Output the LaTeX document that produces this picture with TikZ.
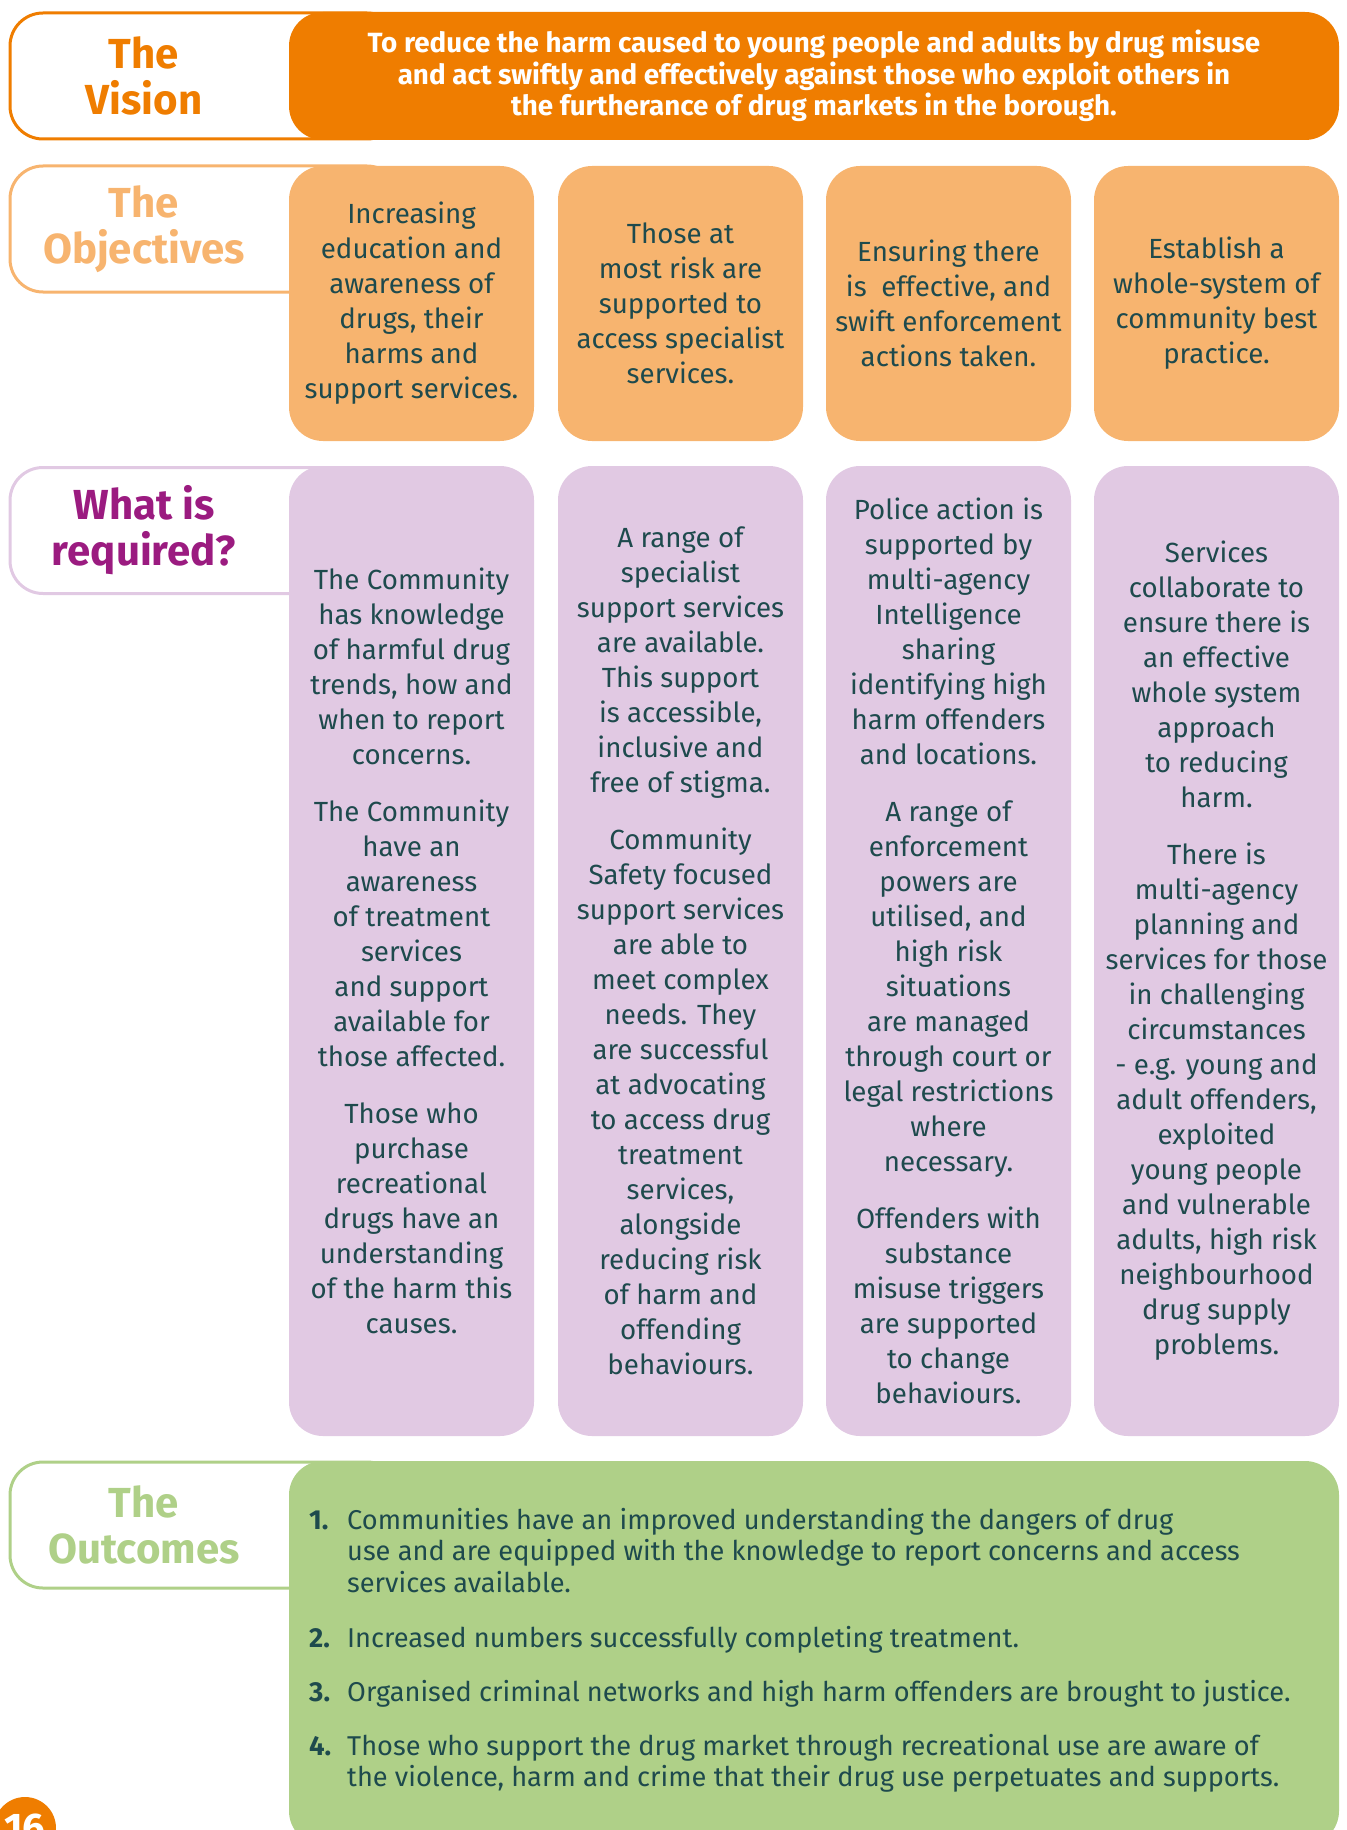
\documentclass[tikz,border=0pt]{standalone}
\usepackage{fontspec}
\setmainfont{Fira Sans}
\usetikzlibrary{positioning}

\definecolor{visorange}{RGB}{239,125,0}
\definecolor{objorange}{RGB}{247,180,111}
\definecolor{reqpurple}{RGB}{225,201,227}
\definecolor{reqhead}{RGB}{155,27,128}
\definecolor{outgreen}{RGB}{175,208,136}
\definecolor{bodytext}{RGB}{30,74,77}

\tikzset{
  labelbox/.style={draw=#1, line width=3pt, rounded corners=33pt,
    minimum width=390pt, minimum height=126pt, inner sep=0pt},
  headtext/.style={text=#1, align=center,
    font=\fontsize{42}{46}\selectfont\bfseries},
  colbox/.style={fill=#1, rounded corners=34pt, inner sep=0pt,
    minimum width=245pt, text=bodytext, align=center,
    font=\fontsize{27.7}{35}\selectfont},
  outnum/.style={anchor=base west, text=bodytext, inner sep=0pt,
    font=\fontsize{27.5}{31.5}\selectfont\bfseries},
  outtext/.style={anchor=base west, text=bodytext, inner sep=0pt,
    font=\fontsize{27.2}{31.5}\selectfont},
}

\begin{document}
\begin{tikzpicture}[x=1pt, y=-1pt]
  \useasboundingbox (0,0) rectangle (1346,1830);
  \clip (0,0) rectangle (1346,1830);

  % left labels
  \node[labelbox=visorange] (vlab) at (205,76)    {};
  \node[labelbox=objorange] (olab) at (205,229)   {};
  \node[labelbox=reqpurple] (rlab) at (205,530.5) {};
  \node[labelbox=outgreen]  (glab) at (205,1525)  {};

  \node[headtext=visorange] (vhead) at (144,76)    {The\\Vision};
  \node[headtext=objorange] (ohead) at (144,229)   {The\\Objectives};
  \node[headtext=reqhead]   (rhead) at (144,530.5) {What is\\required?};
  \node[headtext=outgreen]  (ghead) at (144,1525)  {The\\Outcomes};

  % the vision
  \node[colbox=visorange, minimum width=1050pt, minimum height=128pt,
        text=white, font=\fontsize{27.8}{31.5}\selectfont\bfseries] (vis) at (814,76)
    {To reduce the harm caused to young people and adults by drug misuse\\
     and act swiftly and effectively against those who exploit others in\\
     the furtherance of drug markets in the borough.};

  % the objectives
  \node[colbox=objorange, minimum height=275pt] (obj1) at (411.5,303.5)
    {Increasing\\education and\\awareness of\\drugs, their\\harms and\\support services.};
  \node[colbox=objorange, minimum height=275pt] (obj2) at (680.5,303.5)
    {Those at\\most risk are\\supported to\\access specialist\\services.};
  \node[colbox=objorange, minimum height=275pt] (obj3) at (948.5,303.5)
    {Ensuring there\\is\ \ effective, and\\swift enforcement\\actions taken.};
  \node[colbox=objorange, minimum height=275pt] (obj4) at (1216.5,303.5)
    {Establish a\\whole-system of\\community best\\practice.};

  % what is required
  \node[colbox=reqpurple, minimum height=970pt] (req1) at (411.5,951)
    {The Community\\has knowledge\\of harmful drug\\trends, how and\\when to report\\concerns.\\[22pt]
     The Community\\have an\\awareness\\of treatment\\services\\and support\\available for\\those affected.\\[22pt]
     Those who\\purchase\\recreational\\drugs have an\\understanding\\of the harm this\\causes.};
  \node[colbox=reqpurple, minimum height=970pt] (req2) at (680.5,951)
    {A range of\\specialist\\support services\\are available.\\This support\\is accessible,\\inclusive and\\free of stigma.\\[22pt]
     Community\\Safety focused\\support services\\are able to\\meet complex\\needs. They\\are successful\\at advocating\\to access drug\\treatment\\services,\\alongside\\reducing risk\\of harm and\\offending\\behaviours.};
  \node[colbox=reqpurple, minimum height=970pt] (req3) at (948.5,951)
    {Police action is\\supported by\\multi-agency\\Intelligence\\sharing\\identifying high\\harm offenders\\and locations.\\[22pt]
     A range of\\enforcement\\powers are\\utilised, and\\high risk\\situations\\are managed\\through court or\\legal restrictions\\where\\necessary.\\[22pt]
     Offenders with\\substance\\misuse triggers\\are supported\\to change\\behaviours.};
  \node[colbox=reqpurple, minimum height=970pt] (req4) at (1216.5,951)
    {Services\\collaborate to\\ensure there is\\an effective\\whole system\\approach\\to reducing\\harm.\\[22pt]
     There is\\multi-agency\\planning and\\services for those\\in challenging\\circumstances\\- e.g. young and\\adult offenders,\\exploited\\young people\\and vulnerable\\adults, high risk\\neighbourhood\\drug supply\\problems.};

  % the outcomes
  \node[colbox=outgreen, minimum width=1050pt, minimum height=384pt] (outc) at (814,1653) {};

  \node[outnum] (n1) at (309,1529) {1.};
  \node[outtext] (t1) at (347,1529) {\parbox[t]{980pt}{Communities have an improved understanding the dangers of drug\\
    use and are equipped with the knowledge to report concerns and access\\services available.}};
  \node[outnum] (n2) at (309,1647) {2.};
  \node[outtext] (t2) at (347,1647) {Increased numbers successfully completing treatment.};
  \node[outnum] (n3) at (309,1701) {3.};
  \node[outtext] (t3) at (347,1701) {Organised criminal networks and high harm offenders are brought to justice.};
  \node[outnum] (n4) at (309,1755) {4.};
  \node[outtext] (t4) at (347,1755) {\parbox[t]{980pt}{Those who support the drug market through recreational use are aware of\\
    the violence, harm and crime that their drug use perpetuates and supports.}};

  % page number
  \node[circle, fill=visorange, minimum size=62pt, inner sep=0pt, text=white,
        font=\fontsize{40}{40}\selectfont\bfseries] (pnum) at (25,1828) {16};
\end{tikzpicture}
\end{document}
